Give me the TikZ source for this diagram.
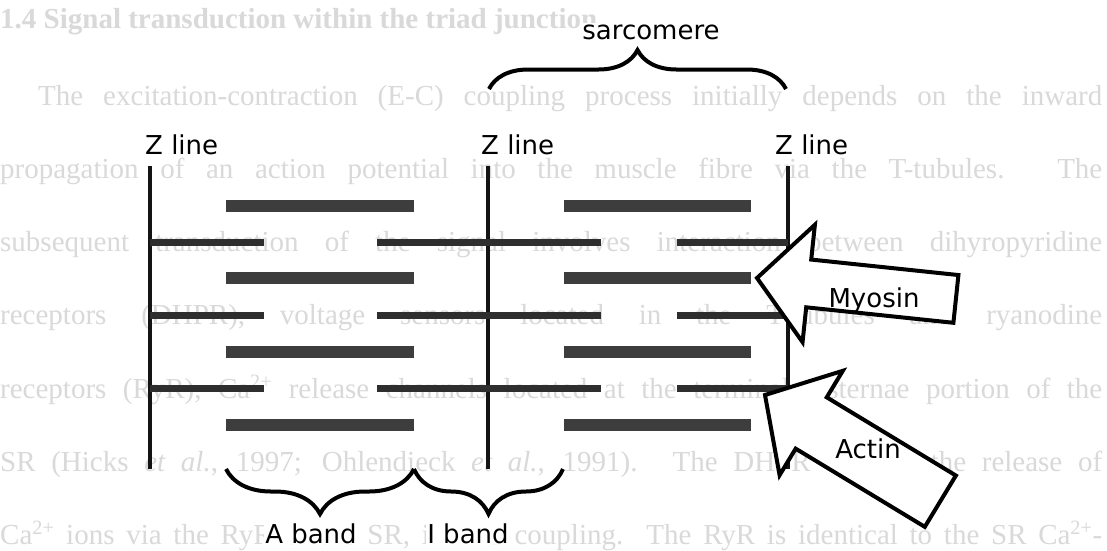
\documentclass[tikz,border=0pt]{standalone}
\usepackage{fontspec}
\usepackage{tikz}
\usetikzlibrary{positioning,decorations.pathreplacing}
\newfontfamily\lblfont{DejaVu Sans}
\newfontfamily\pagefont{Liberation Serif}
\newcommand{\caion}{Ca\textsuperscript{2+}}
\newcommand{\etal}{\textit{et al.}}

\begin{document}
\begin{tikzpicture}[x=1pt, y=-1pt,
  zline/.style={line width=4pt, black!92},
  myosin/.style={line width=12pt, black!76},
  actin/.style={line width=7pt, black!82},
  curly/.style={decorate, decoration={brace, amplitude=#1}, line width=4pt},
  lbl/.style={font=\lblfont\fontsize{26}{30}\selectfont, inner sep=1pt, text depth=0pt, fill=white},
  pagetext/.style={font=\pagefont\fontsize{29}{33}\selectfont, text=black!15, inner sep=0pt, anchor=base west},
  arrowbox/.style={draw, fill=white, line width=4pt, line join=miter}]

\useasboundingbox (0,0) rectangle (1107,550);
\fill[white] (0,0) rectangle (1107,550);

% page text behind the figure
\node[pagetext, font=\pagefont\bfseries\fontsize{29}{33}\selectfont] (head) at (0,28) {1.4 Signal transduction within the triad junction};
\node[pagetext] (p1) at (38,105) {\makebox[1064pt][s]{The excitation-contraction (E-C) coupling process initially depends on the inward}};
\node[pagetext] (p2) at (0,178) {\makebox[1102pt][s]{propagation of an action potential into the muscle fibre via the T-tubules. The}};
\node[pagetext] (p3) at (0,251) {\makebox[1102pt][s]{subsequent transduction of the signal involves interaction between dihyropyridine}};
\node[pagetext] (p4) at (0,324) {\makebox[1102pt][s]{receptors (DHPR), voltage sensors located in the T-tubules and ryanodine}};
\node[pagetext] (p5) at (0,398) {\makebox[1102pt][s]{receptors (RyR), \caion{} release channels located at the terminal cisternae portion of the}};
\node[pagetext] (p6) at (0,471) {\makebox[1102pt][s]{SR (Hicks \etal, 1997; Ohlendieck \etal, 1991). The DHPR triggers the release of}};
\node[pagetext] (p7) at (0,544) {\makebox[1102pt][s]{\caion{} ions via the RyR of the SR, in E-C coupling. The RyR is identical to the SR \caion-}};

% Z lines
\coordinate (z1t) at (150,166); \coordinate (z1b) at (150,469);
\coordinate (z2t) at (488,166); \coordinate (z2b) at (488,469);
\coordinate (z3t) at (788,166); \coordinate (z3b) at (788,469);
\draw[zline] (z1t) -- (z1b) (z2t) -- (z2b) (z3t) -- (z3b);

% thick and thin filaments
\foreach \y in {206,278.4,351.8,425} {
  \draw[myosin] (226,\y) -- (414,\y);
  \draw[myosin] (564,\y) -- (751,\y);
}
\foreach \y in {242,315,388.5} {
  \draw[actin] (150,\y) -- (264,\y);
  \draw[actin] (377,\y) -- (601,\y);
  \draw[actin] (677,\y) -- (788,\y);
}

% braces
\draw[curly=39pt] (489,89) -- (786,89);
\draw[curly=45pt] (414,469) -- (226,469);
\draw[curly=45pt] (563,469) -- (414,469);

\node[lbl, anchor=base west] (zl1) at (144,154) {Z line};
\node[lbl, anchor=base west] (zl2) at (480,154) {Z line};
\node[lbl, anchor=base west] (zl3) at (774,154) {Z line};
\node[lbl, anchor=base] (sarc) at (651,39) {sarcomere};
\node[lbl, anchor=base] (aband) at (311,543) {A band};
\node[lbl, anchor=base] (iband) at (468,543) {I band};

% pointer arrows
\begin{scope}[shift={(757,278)}, rotate=-6]
  \draw[arrowbox] (0,0) -- (52,-59) -- (52,-24) -- (200,-24) -- (200,24) -- (52,24) -- (52,59) -- cycle;
\end{scope}
\begin{scope}[shift={(765,395)}, rotate=-31.2]
  \draw[arrowbox] (0,0) -- (54,-61) -- (54,-30) -- (205,-30) -- (205,30) -- (54,30) -- (54,61) -- cycle;
\end{scope}
\node[lbl, fill=none, anchor=base] (myo) at (874,307) {Myosin};
\node[lbl, fill=none, anchor=base] (act) at (868,458) {Actin};
\end{tikzpicture}
\end{document}
